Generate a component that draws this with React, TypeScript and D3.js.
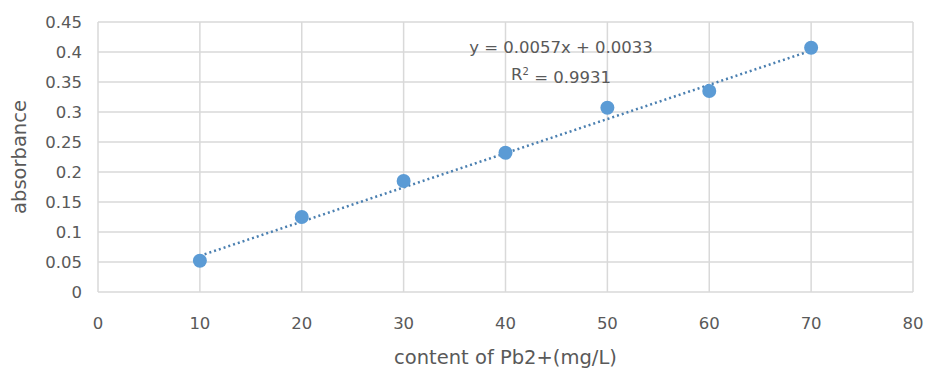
import React from "react";
import * as d3 from "d3";

const xValues = [10, 20, 30, 40, 50, 60, 70];
const yValues = [0.052, 0.125, 0.185, 0.232, 0.307, 0.335, 0.407];
const xTicks = [0, 10, 20, 30, 40, 50, 60, 70, 80];
const yTicks = [0, 0.05, 0.1, 0.15, 0.2, 0.25, 0.3, 0.35, 0.4, 0.45];
const slope = 0.0057;
const intercept = 0.0033;
const equationText = "y = 0.0057x + 0.0033";
const r2Value = "0.9931";
const xTitle = "content of Pb2+(mg/L)";
const yTitle = "absorbance";

const W = 925;
const H = 369;
const left = 98;
const right = 913;
const top = 22;
const bottom = 292;
const font = "'DejaVu Sans', sans-serif";
const textColor = "#595959";
const gridColor = "#d9d9d9";
const dotColor = "#5b9bd5";

export default function App() {
  const x = d3.scaleLinear().domain([0, 80]).range([left, right]);
  const y = d3.scaleLinear().domain([0, 0.45]).range([bottom, top]);
  const x0 = xValues[0];
  const x1 = xValues[xValues.length - 1];
  const trend = d3.line<number>().x((d) => x(d)).y((d) => y(slope * d + intercept))([x0, x1]) || "";
  return (
    <svg width={W} height={H} style={{ position: "absolute", left: 0, top: 0, background: "#fff" }}>
      <rect x={0} y={0} width={W} height={H} fill="#fff" />
      {yTicks.map((t) => (
        <line key={"gy" + t} x1={left} x2={right} y1={y(t)} y2={y(t)} stroke={gridColor} strokeWidth={1.5} />
      ))}
      {xTicks.map((t) => (
        <line key={"gx" + t} x1={x(t)} x2={x(t)} y1={top} y2={bottom} stroke={gridColor} strokeWidth={1.5} />
      ))}
      {yTicks.map((t) => (
        <text key={"ty" + t} x={82} y={y(t)} dy="0.35em" textAnchor="end" fontFamily={font} fontSize={16.5} fill={textColor}>
          {String(t)}
        </text>
      ))}
      {xTicks.map((t) => (
        <text key={"tx" + t} x={x(t)} y={323} dy="0.35em" textAnchor="middle" fontFamily={font} fontSize={16.5} fill={textColor}>
          {String(t)}
        </text>
      ))}
      <path d={trend} fill="none" stroke="#4a7fb0" strokeWidth={2.5} strokeDasharray="2 3" />
      {xValues.map((v, i) => (
        <circle key={"p" + i} cx={x(v)} cy={y(yValues[i])} r={7} fill={dotColor} />
      ))}
      <text x={561} y={47} dy="0.35em" textAnchor="middle" fontFamily={font} fontSize={16.5} fill={textColor}>
        {equationText}
      </text>
      <text x={561} y={74} dy="0.35em" textAnchor="middle" fontFamily={font} fontSize={16.5} fill={textColor}>
        R<tspan fontSize={10} dy="-0.45em">2</tspan><tspan dy="0.45em">{" = " + r2Value}</tspan>
      </text>
      <text x={(left + right) / 2} y={357} dy="0.35em" textAnchor="middle" fontFamily={font} fontSize={19.5} fill={textColor}>
        {xTitle}
      </text>
      <text transform={`translate(19,${(top + bottom) / 2}) rotate(-90)`} dy="0.35em" textAnchor="middle" fontFamily={font} fontSize={19.5} fill={textColor}>
        {yTitle}
      </text>
    </svg>
  );
}
